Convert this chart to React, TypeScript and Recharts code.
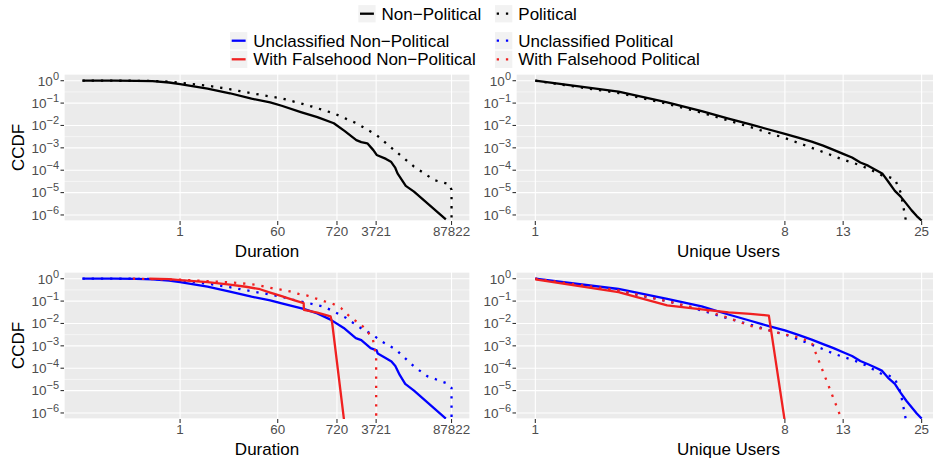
import React from "react"
import { LineChart, Line, XAxis, YAxis, CartesianGrid } from "recharts"

// CCDF of cascade duration (minutes) and unique users
const durationTicks = [1, 60, 720, 3721, 87822]
const userTicks = [1, 8, 13, 25]
const ccdfTicks = [1e-6, 1e-5, 1e-4, 1e-3, 1e-2, 1e-1, 1]

const durationNonPolitical: [number, number][] = [
  [0.0167, 1], [0.063, 1], [0.158, 0.989], [0.316, 0.955], [0.631, 0.832], [1, 0.708], [3.16, 0.447],
  [8.07, 0.275], [20, 0.158], [43.7, 0.107], [70.8, 0.0759], [158, 0.0398], [316, 0.0234], [631, 0.0126],
  [1000, 0.0056], [1622, 0.0022], [1995, 0.0018], [2570, 0.0016], [3311, 0.00079], [3802, 0.00048],
  [5623, 0.00032], [6918, 0.00024], [8318, 0.000126], [9120, 0.000072], [12882, 0.00002], [18197, 0.000011],
  [69183, 6.3e-7],
]
const durationPolitical: [number, number][] = [
  [0.0167, 1], [0.063, 1], [0.158, 0.993], [0.316, 0.977], [0.631, 0.912], [1, 0.813], [3.16, 0.603],
  [8.07, 0.417], [20, 0.275], [70.8, 0.162], [200, 0.0832], [631, 0.0347], [1622, 0.0126], [3802, 0.0037],
  [7943, 0.00079], [18197, 0.000145], [42658, 0.000036], [79433, 0.000024], [87822, 0.0000132], [87900, 4.5e-7],
]
const usersNonPolitical: [number, number][] = [
  [1, 1], [2, 0.324], [3, 0.107], [4, 0.0437], [5, 0.0204], [6, 0.0112], [7, 0.0066], [8, 0.0042], [9, 0.0028],
  [10, 0.0019], [11, 0.00126], [12, 0.00081], [13, 0.00054], [14, 0.00037], [15, 0.00022], [16, 0.00016],
  [17, 0.000105], [18, 0.000072], [19, 0.000029], [20, 0.000012], [21, 6.6e-6], [22, 3.2e-6], [23, 1.6e-6],
  [24, 8.9e-7], [25, 5.6e-7],
]
const usersPolitical: [number, number][] = [
  [1, 1], [2, 0.282], [3, 0.0933], [4, 0.0372], [5, 0.0166], [6, 0.0085], [7, 0.0046], [8, 0.00275], [9, 0.00162],
  [10, 0.001], [11, 0.00065], [12, 0.00043], [13, 0.000295], [14, 0.00022], [15, 0.000166], [16, 0.000117],
  [17, 0.000083], [18, 0.000058], [19, 0.00005], [20, 0.00004], [21, 0.00001], [22, 4.5e-7],
]

const durationUnclassifiedNonPolitical: [number, number][] = [
  [0.0167, 1], [0.063, 1], [0.158, 0.977], [0.316, 0.933], [0.631, 0.832], [1, 0.708], [3.16, 0.447],
  [8.07, 0.263], [20, 0.158], [43.7, 0.107], [70.8, 0.0794], [178, 0.0447], [316, 0.0282], [550, 0.0148],
  [955, 0.0063], [1585, 0.0022], [1995, 0.0018], [2951, 0.00079], [3802, 0.00063], [3981, 0.00045],
  [5623, 0.00028], [7079, 0.0002], [8318, 0.000126], [10000, 0.00005], [12589, 0.00002], [18197, 0.00001],
  [69183, 5.6e-7],
]
const durationUnclassifiedPolitical: [number, number][] = [
  [0.0167, 1], [0.063, 1], [0.158, 0.993], [0.316, 0.977], [0.631, 0.912], [1, 0.832], [3.16, 0.603],
  [8.07, 0.417], [20, 0.275], [70.8, 0.158], [112, 0.115], [219, 0.0813], [427, 0.055], [575, 0.038],
  [1023, 0.0186], [1820, 0.0069], [3311, 0.003], [4467, 0.0017], [8511, 0.00068], [18197, 0.00012],
  [31623, 0.000044], [69183, 0.000022], [87822, 0.0000132], [87900, 4e-7],
]
const durationFalsehoodNonPolitical: [number, number][] = [
  [0.275, 1], [0.631, 0.955], [1, 0.871], [3.16, 0.708], [8.07, 0.55], [15.8, 0.437], [28.6, 0.339],
  [43.7, 0.24], [70.8, 0.166], [100, 0.126], [135, 0.1], [178, 0.0813], [180, 0.0407], [316, 0.0302],
  [550, 0.0209], [589, 0.0105], [977, 4e-7],
]
const durationFalsehoodPolitical: [number, number][] = [
  [0.138, 1], [1, 0.902], [8.07, 0.692], [24.8, 0.537], [46.8, 0.38], [68.4, 0.324], [100, 0.269],
  [145, 0.209], [209, 0.174], [302, 0.129], [427, 0.0977], [617, 0.0741], [851, 0.049], [1096, 0.0263],
  [1462, 0.0148], [1995, 0.0087], [2570, 0.0045], [3236, 0.002], [3467, 0.00089], [3721, 0.00034], [3730, 4e-7],
]
const usersUnclassifiedNonPolitical: [number, number][] = [
  [1, 1], [2, 0.347], [3, 0.126], [4, 0.0575], [5, 0.0251], [6, 0.0132], [7, 0.0076], [8, 0.0049], [9, 0.003],
  [10, 0.0019], [11, 0.0012], [12, 0.00079], [13, 0.00052], [14, 0.00035], [15, 0.00021], [16, 0.00015],
  [17, 0.000107], [18, 0.000076], [19, 0.000035], [20, 0.00002], [21, 7.9e-6], [22, 3.5e-6], [23, 1.8e-6],
  [24, 9.5e-7], [25, 5.6e-7],
]
const usersUnclassifiedPolitical: [number, number][] = [
  [1, 1], [2, 0.282], [3, 0.1], [4, 0.038], [5, 0.0166], [6, 0.0089], [7, 0.005], [8, 0.0032], [9, 0.0019],
  [10, 0.00112], [11, 0.00071], [12, 0.00045], [13, 0.00032], [14, 0.00024], [15, 0.000174], [16, 0.00012],
  [17, 0.000079], [18, 0.000054], [19, 0.000047], [20, 0.000035], [21, 7.9e-6], [22, 4e-7],
]
const usersFalsehoodNonPolitical: [number, number][] = [
  [1, 0.933], [2, 0.251], [3, 0.0646], [4, 0.0427], [5, 0.0316], [6, 0.0269], [7, 0.0224], [8, 4e-7],
]
const usersFalsehoodPolitical: [number, number][] = [
  [1, 1], [2, 0.302], [3, 0.0977], [4, 0.0437], [5, 0.0174], [6, 0.0079], [7, 0.0049], [8, 0.0032],
  [9, 0.0024], [10, 0.0014], [13, 3.5e-7],
]

const legendTop = ["Non\u2212Political", "Political"]
const legendBottom = [
  "Unclassified Non\u2212Political",
  "Unclassified Political",
  "With Falsehood Non\u2212Political",
  "With Falsehood Political",
]

const BLACK = "#000000"
const BLUE = "#0000FF"
const RED = "#F02020"
const FONT = "'Liberation Sans', Arial, Helvetica, sans-serif"
const LW = 2.3
const DOTS = `${LW} ${LW * 3}`

const ccdfDomain: [number, number] = [Math.pow(10, -6.27), Math.pow(10, 0.3)]
const durationDomain: [number, number] = [Math.pow(10, -2.114), Math.pow(10, 5.28)]
const userDomain: [number, number] = [Math.pow(10, -0.0699), Math.pow(10, 1.468)]

interface Series {
  name: string
  data: [number, number][]
  color: string
  dotted: boolean
}

// ggplot-style minor breaks: log midpoints between majors, plus one major step past the ends
function minorBreaks(major: number[], domain: [number, number]) {
  const b = [...major]
  const step = b[1] / b[0]
  if (domain[0] < b[0]) b.unshift(b[0] / step)
  if (domain[1] > b[b.length - 1]) b.push(b[b.length - 1] * step)
  const out: number[] = []
  for (let i = 0; i < b.length - 1; i++) out.push(b[i], Math.sqrt(b[i] * b[i + 1]))
  out.push(b[b.length - 1])
  return out.filter(v => v >= domain[0] && v <= domain[1] && !major.includes(v))
}

function PowerTick(props: any) {
  const { x, y, payload } = props
  const e = Math.round(Math.log10(payload.value))
  const exp = e < 0 ? `\u2212${-e}` : `${e}`
  return (
    <text x={x} y={y} dy={4.8} textAnchor="end" fill="#4D4D4D" fontSize={13.5} fontFamily={FONT}>
      10<tspan dy={-6} fontSize={11}>{exp}</tspan>
    </text>
  )
}

interface PanelProps {
  left: number
  top: number
  width: number
  yAxisWidth: number
  marginRight: number
  xDomain: [number, number]
  xTicks: number[]
  xLabel: string
  series: Series[]
  yTitle?: string
}

function Panel({ left, top, width, yAxisWidth, marginRight, xDomain, xTicks, xLabel, series, yTitle }: PanelProps) {
  const minorX = minorBreaks(xTicks, xDomain)
  const minorY = minorBreaks(ccdfTicks, ccdfDomain)
  return (
    <div style={{ position: "absolute", left, top }}>
      <LineChart width={width} height={191} margin={{ top: 4, right: marginRight, bottom: 0, left: 0 }}>
        <XAxis xAxisId="minor" type="number" scale="log" domain={xDomain} allowDataOverflow ticks={minorX} hide />
        <YAxis yAxisId="minor" type="number" scale="log" domain={ccdfDomain} allowDataOverflow ticks={minorY} hide />
        <CartesianGrid xAxisId="minor" yAxisId="minor" stroke="#FFFFFF" strokeWidth={0.55} fill="#EBEBEB" fillOpacity={1} />
        <CartesianGrid stroke="#FFFFFF" strokeWidth={1.1} />
        <XAxis
          dataKey="x"
          type="number"
          scale="log"
          domain={xDomain}
          allowDataOverflow
          ticks={xTicks}
          interval={0}
          height={40}
          axisLine={false}
          tickSize={4}
          tickMargin={1.5}
          tickLine={{ stroke: "#333333", strokeWidth: 1.1 }}
          tick={{ fontSize: 13.4, fill: "#4D4D4D", fontFamily: FONT }}
          label={{ value: xLabel, position: "insideBottom", offset: 4.5, fill: "#000000", fontSize: 17, fontFamily: FONT }}
        />
        <YAxis
          type="number"
          scale="log"
          domain={ccdfDomain}
          allowDataOverflow
          ticks={ccdfTicks}
          interval={0}
          width={yAxisWidth}
          axisLine={false}
          tickSize={3.5}
          tickMargin={1.5}
          tickLine={{ stroke: "#333333", strokeWidth: 1.1 }}
          tick={<PowerTick />}
          label={
            yTitle
              ? { value: yTitle, angle: -90, position: "insideLeft", offset: 17.5, fill: "#000000", fontSize: 17, fontFamily: FONT, style: { textAnchor: "middle" } }
              : undefined
          }
        />
        {series.map(s => (
          <Line
            key={s.name}
            name={s.name}
            data={s.data.map(([x, y]) => ({ x, y }))}
            dataKey="y"
            type="linear"
            stroke={s.color}
            strokeWidth={LW}
            strokeDasharray={s.dotted ? DOTS : undefined}
            strokeLinejoin="round"
            strokeLinecap="butt"
            dot={false}
            activeDot={false}
            isAnimationActive={false}
          />
        ))}
      </LineChart>
    </div>
  )
}

function LegendKey({ x, y, color, dotted, label }: { x: number; y: number; color: string; dotted: boolean; label: string }) {
  return (
    <g>
      <rect x={x} y={y - 8.6} width={17.3} height={17.3} fill="#F2F2F2" />
      <line x1={x + 1.7} x2={x + 15.6} y1={y} y2={y} stroke={color} strokeWidth={LW} strokeDasharray={dotted ? DOTS : undefined} />
      <text x={x + 23.3} y={y + 6} fontSize={17} fill="#000000" fontFamily={FONT}>{label}</text>
    </g>
  )
}

export default function App() {
  const topDuration: Series[] = [
    { name: legendTop[0], data: durationNonPolitical, color: BLACK, dotted: false },
    { name: legendTop[1], data: durationPolitical, color: BLACK, dotted: true },
  ]
  const topUsers: Series[] = [
    { name: legendTop[0], data: usersNonPolitical, color: BLACK, dotted: false },
    { name: legendTop[1], data: usersPolitical, color: BLACK, dotted: true },
  ]
  const bottomDuration: Series[] = [
    { name: legendBottom[0], data: durationUnclassifiedNonPolitical, color: BLUE, dotted: false },
    { name: legendBottom[1], data: durationUnclassifiedPolitical, color: BLUE, dotted: true },
    { name: legendBottom[2], data: durationFalsehoodNonPolitical, color: RED, dotted: false },
    { name: legendBottom[3], data: durationFalsehoodPolitical, color: RED, dotted: true },
  ]
  const bottomUsers: Series[] = [
    { name: legendBottom[0], data: usersUnclassifiedNonPolitical, color: BLUE, dotted: false },
    { name: legendBottom[1], data: usersUnclassifiedPolitical, color: BLUE, dotted: true },
    { name: legendBottom[2], data: usersFalsehoodNonPolitical, color: RED, dotted: false },
    { name: legendBottom[3], data: usersFalsehoodPolitical, color: RED, dotted: true },
  ]

  return (
    <div style={{ position: "absolute", left: 0, top: 0, width: 933, height: 464, overflow: "hidden", background: "#FFFFFF", fontFamily: FONT }}>
      <svg width={933} height={70} style={{ position: "absolute", left: 0, top: 0 }}>
        <LegendKey x={358.3} y={13.7} color={BLACK} dotted={false} label={legendTop[0]} />
        <LegendKey x={495} y={13.7} color={BLACK} dotted={true} label={legendTop[1]} />
        <LegendKey x={230} y={40.7} color={BLUE} dotted={false} label={legendBottom[0]} />
        <LegendKey x={495} y={40.7} color={BLUE} dotted={true} label={legendBottom[1]} />
        <LegendKey x={230} y={59.3} color={RED} dotted={false} label={legendBottom[2]} />
        <LegendKey x={495} y={59.3} color={RED} dotted={true} label={legendBottom[3]} />
      </svg>
      <Panel left={0} top={70} width={474} yAxisWidth={64} marginRight={4} xDomain={durationDomain} xTicks={durationTicks} xLabel="Duration" series={topDuration} yTitle="CCDF" />
      <Panel left={470} top={70} width={474} yAxisWidth={46} marginRight={3} xDomain={userDomain} xTicks={userTicks} xLabel="Unique Users" series={topUsers} />
      <Panel left={0} top={268} width={474} yAxisWidth={64} marginRight={4} xDomain={durationDomain} xTicks={durationTicks} xLabel="Duration" series={bottomDuration} yTitle="CCDF" />
      <Panel left={470} top={268} width={474} yAxisWidth={46} marginRight={3} xDomain={userDomain} xTicks={userTicks} xLabel="Unique Users" series={bottomUsers} />
    </div>
  )
}
